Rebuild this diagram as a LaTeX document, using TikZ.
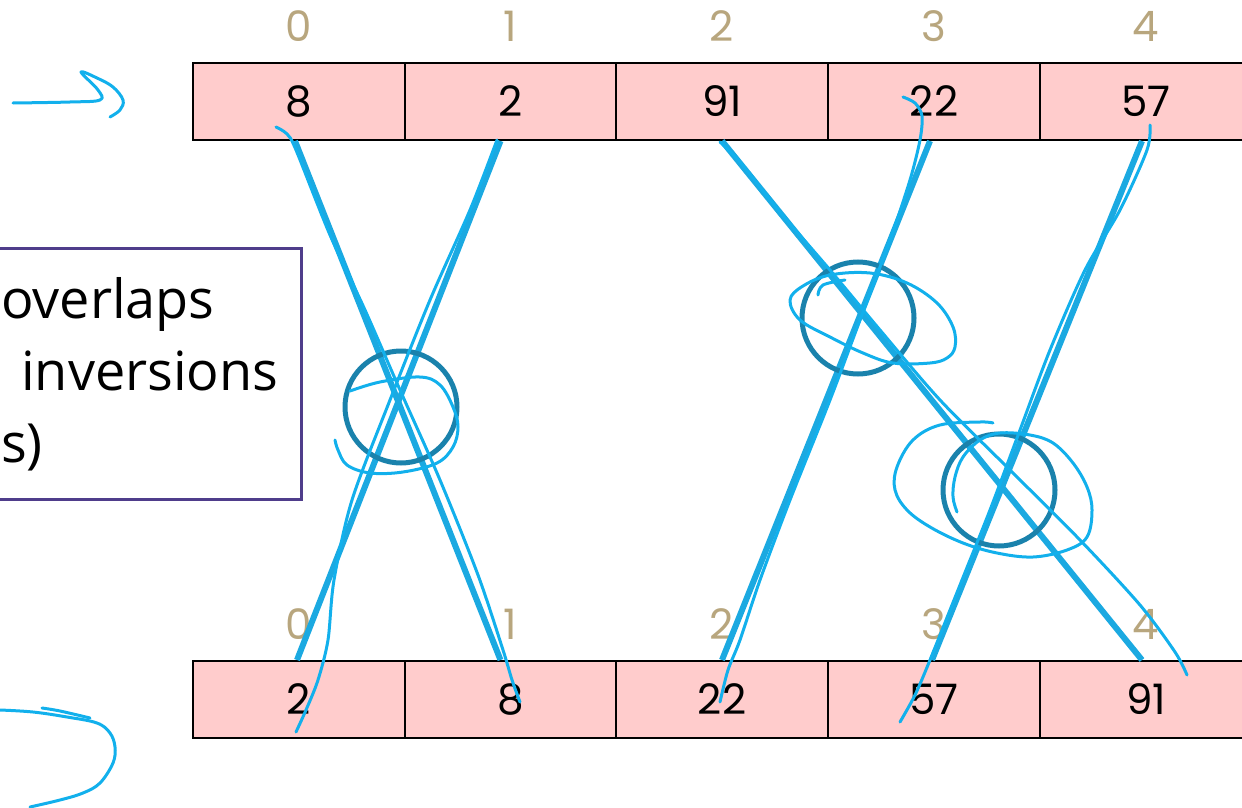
\documentclass[tikz,border=0pt]{standalone}
\usepackage{fontspec}
\setmainfont{Poppins}
\newfontfamily\notefont{Open Sans}

\definecolor{cellpink}{HTML}{FFCCCC}
\definecolor{idxtan}{HTML}{B8A67E}
\definecolor{inkblue}{HTML}{12B0EC}
\definecolor{lineblue}{HTML}{1BA9E1}
\definecolor{ringteal}{HTML}{1A82AC}
\definecolor{notepurple}{HTML}{4F3D8B}

\tikzset{
  cell/.style={draw=black, line width=2pt, fill=cellpink, minimum width=212pt,
    minimum height=77pt, inner sep=0pt, font=\fontsize{42}{42}\selectfont},
  idx/.style={text=idxtan, inner sep=0pt, font=\fontsize{42}{42}\selectfont},
  swapline/.style={lineblue, line width=6pt},
  ink/.style={inkblue, line width=3pt, line cap=round, line join=round},
  ring/.style={draw=ringteal, line width=5pt, circle, minimum size=112pt, inner sep=0pt},
  notetext/.style={inner sep=0pt, font=\notefont\fontsize{54}{54}\selectfont},
}

\begin{document}
\begin{tikzpicture}[x=1pt, y=-1pt]
  \useasboundingbox (0,0) rectangle (1242,808);

  % note box on the left
  \draw[notepurple, line width=3pt] (-20,248) rectangle (301,499);
  \node[notetext, anchor=base west] (n1) at (1,318) {overlaps};
  \node[notetext, anchor=base west] (n2) at (21,390) {inversions};
  \node[notetext, anchor=base west] (n3) at (1,462) {s)};

  % array before
  \node[cell] (t0) at (299,101.5) {8};
  \node[cell] (t1) at (510.5,101.5) {2};
  \node[cell] (t2) at (722,101.5) {91};
  \node[cell] (t3) at (934,101.5) {22};
  \node[cell] (t4) at (1146,101.5) {57};
  \node[idx] (i0) at (299,26) {0};
  \node[idx] (i1) at (510.5,26) {1};
  \node[idx] (i2) at (722,26) {2};
  \node[idx] (i3) at (934,26) {3};
  \node[idx] (i4) at (1146,26) {4};

  % array after
  \node[cell] (b0) at (299,699.5) {2};
  \node[cell] (b1) at (510.5,699.5) {8};
  \node[cell] (b2) at (722,699.5) {22};
  \node[cell] (b3) at (934,699.5) {57};
  \node[cell] (b4) at (1146,699.5) {91};
  \node[idx] (j0) at (299,624) {0};
  \node[idx] (j1) at (510.5,624) {1};
  \node[idx] (j2) at (722,624) {2};
  \node[idx] (j3) at (934,624) {3};
  \node[idx] (j4) at (1146,624) {4};

  % where each value moves
  \draw[swapline] ([xshift=-4pt]t0.south) -- ([xshift=-10pt]b1.north);
  \draw[swapline] ([xshift=-10pt]t1.south) -- ([xshift=-2pt]b0.north);
  \draw[swapline] (t2.south) -- ([xshift=-4pt]b4.north);
  \draw[swapline] ([xshift=-4pt]t3.south) -- (b2.north);
  \draw[swapline] ([xshift=-4pt]t4.south) -- ([xshift=-2pt]b3.north);

  % crossings
  \node[ring] (c1) at (401,407) {};
  \node[ring] (c2) at (858,318) {};
  \node[ring] (c3) at (999,490) {};

  % hand drawn strokes
  \draw[ink] plot[smooth, tension=0.6] coordinates {(13,103) (70,102) (100,100) (98,90)
    (81,72) (97,78) (113,87) (123,100) (120,110) (110,117)};
  \draw[ink] plot[smooth, tension=0.6] coordinates {(0,710) (33,712) (67,717) (97,723)
    (110,733) (115,747) (113,763) (100,783) (83,793) (60,800) (30,807)};
  \draw[ink] plot[smooth, tension=0.6] coordinates {(42,708) (60,711) (90,718)};
  \draw[ink] plot[smooth, tension=0.5] coordinates {(276,127) (287,134) (296,150)
    (330,235) (365,310) (400,390) (440,480) (478,575) (503,650) (512,680) (520,702)};
  \draw[ink] plot[smooth, tension=0.5] coordinates {(497,140) (470,210) (430,300)
    (390,400) (352,500) (334,580) (328,640) (318,680) (306,710) (296,732)};
  \draw[ink] plot[smooth, tension=0.5] coordinates {(720,142) (740,162) (780,212)
    (830,270) (880,330) (940,400) (1010,470) (1080,540) (1140,605) (1175,652) (1187,675)};
  \draw[ink] plot[smooth, tension=0.5] coordinates {(903,97) (915,103) (922,116)
    (920,140) (910,180) (890,240) (860,320) (830,400) (790,500) (760,580) (740,640)
    (728,670) (720,702)};
  \draw[ink] plot[smooth, tension=0.5] coordinates {(1150,125) (1147,150) (1120,210)
    (1085,270) (1050,350) (1020,430) (990,510) (962,580) (930,660) (915,695) (900,722)};
  \draw[ink] plot[smooth, tension=0.6] coordinates {(350,391) (380,382) (420,377)
    (440,385) (453,407) (458,427) (453,447) (437,463) (403,472) (370,473) (347,465)
    (338,450) (335,440)};
  \draw[ink] plot[smooth, tension=0.6] coordinates {(818,295) (823,285) (845,280)};
  \draw[ink] plot[smooth cycle, tension=0.6] coordinates {(790,300) (803,286) (830,275)
    (870,273) (907,283) (937,303) (953,327) (955,347) (947,358) (930,363) (893,363)
    (863,353) (830,337) (800,320)};
  \draw[ink] plot[smooth, tension=0.6] coordinates {(993,423) (980,422) (940,425)
    (913,440) (897,467) (895,490) (907,510) (930,527) (963,543) (997,553) (1033,557)
    (1067,550) (1087,537) (1092,510) (1087,487) (1073,463) (1053,443) (1030,435)
    (1000,433) (980,440) (963,457) (955,477) (953,497) (957,512)};
\end{tikzpicture}
\end{document}
